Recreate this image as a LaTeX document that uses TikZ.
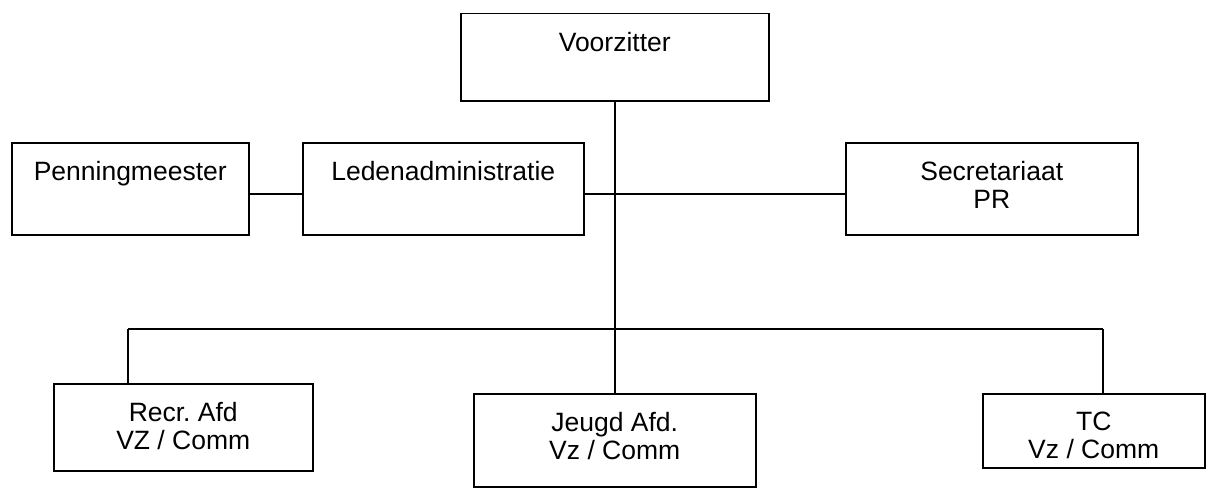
\documentclass[tikz,border=0pt]{standalone}
\usepackage{fontspec}
\setmainfont{Liberation Sans}
\frenchspacing
\begin{document}
\begin{tikzpicture}[x=1pt,y=-1pt,
  box/.style={draw, line width=1.5pt, inner sep=0pt, anchor=north west},
  lbl/.style={anchor=north, inner sep=0pt, align=center, font=\fontsize{26.5}{28}\selectfont},
  conn/.style={line width=1.5pt}]
\useasboundingbox (0,0) rectangle (1206,487);
% boxes
\node[box, minimum width=308pt, minimum height=87pt] (v) at (460,13) {};
\node[box, minimum width=237pt, minimum height=92pt] (p) at (11,142) {};
\node[box, minimum width=281pt, minimum height=92pt] (l) at (302,142) {};
\node[box, minimum width=292pt, minimum height=92pt] (s) at (845,142) {};
\node[box, minimum width=259pt, minimum height=87pt] (r) at (53,383) {};
\node[box, minimum width=282pt, minimum height=93pt] (j) at (473,393) {};
\node[box, minimum width=222pt, minimum height=74pt] (t) at (982,393) {};
% texts
\node[lbl] (vt) at ([yshift=-19pt]v.north) {Voorzitter};
\node[lbl] (pt) at ([yshift=-19pt]p.north) {Penningmeester};
\node[lbl] (lt) at ([yshift=-19pt]l.north) {Ledenadministratie};
\node[lbl] (st) at ([yshift=-19pt]s.north) {Secretariaat\\PR};
\node[lbl] (rt) at ([yshift=-19pt]r.north) {Recr. Afd\\VZ / Comm};
\node[lbl] (jt) at ([yshift=-19pt]j.north) {Jeugd Afd.\\Vz / Comm};
\node[lbl] (tt) at ([yshift=-19pt]t.north) {TC\\Vz / Comm};
% connector points
\coordinate (hub) at (v.south |- 0,329);
\coordinate (mid) at (v.south |- 0,194);
\coordinate (rl) at (r.north -| 128,0);
\coordinate (tl) at (t.north -| 1103,0);
\draw[conn] (v.south) -- (hub);
\draw[conn] (l.east |- mid) -- (s.west |- mid);
\draw[conn] (p.east |- mid) -- (l.west |- mid);
\draw[conn] (rl |- hub) -- (tl |- hub);
\draw[conn] (rl |- hub) -- (rl);
\draw[conn] (hub) -- (j.north);
\draw[conn] (tl |- hub) -- (tl);
\end{tikzpicture}
\end{document}
